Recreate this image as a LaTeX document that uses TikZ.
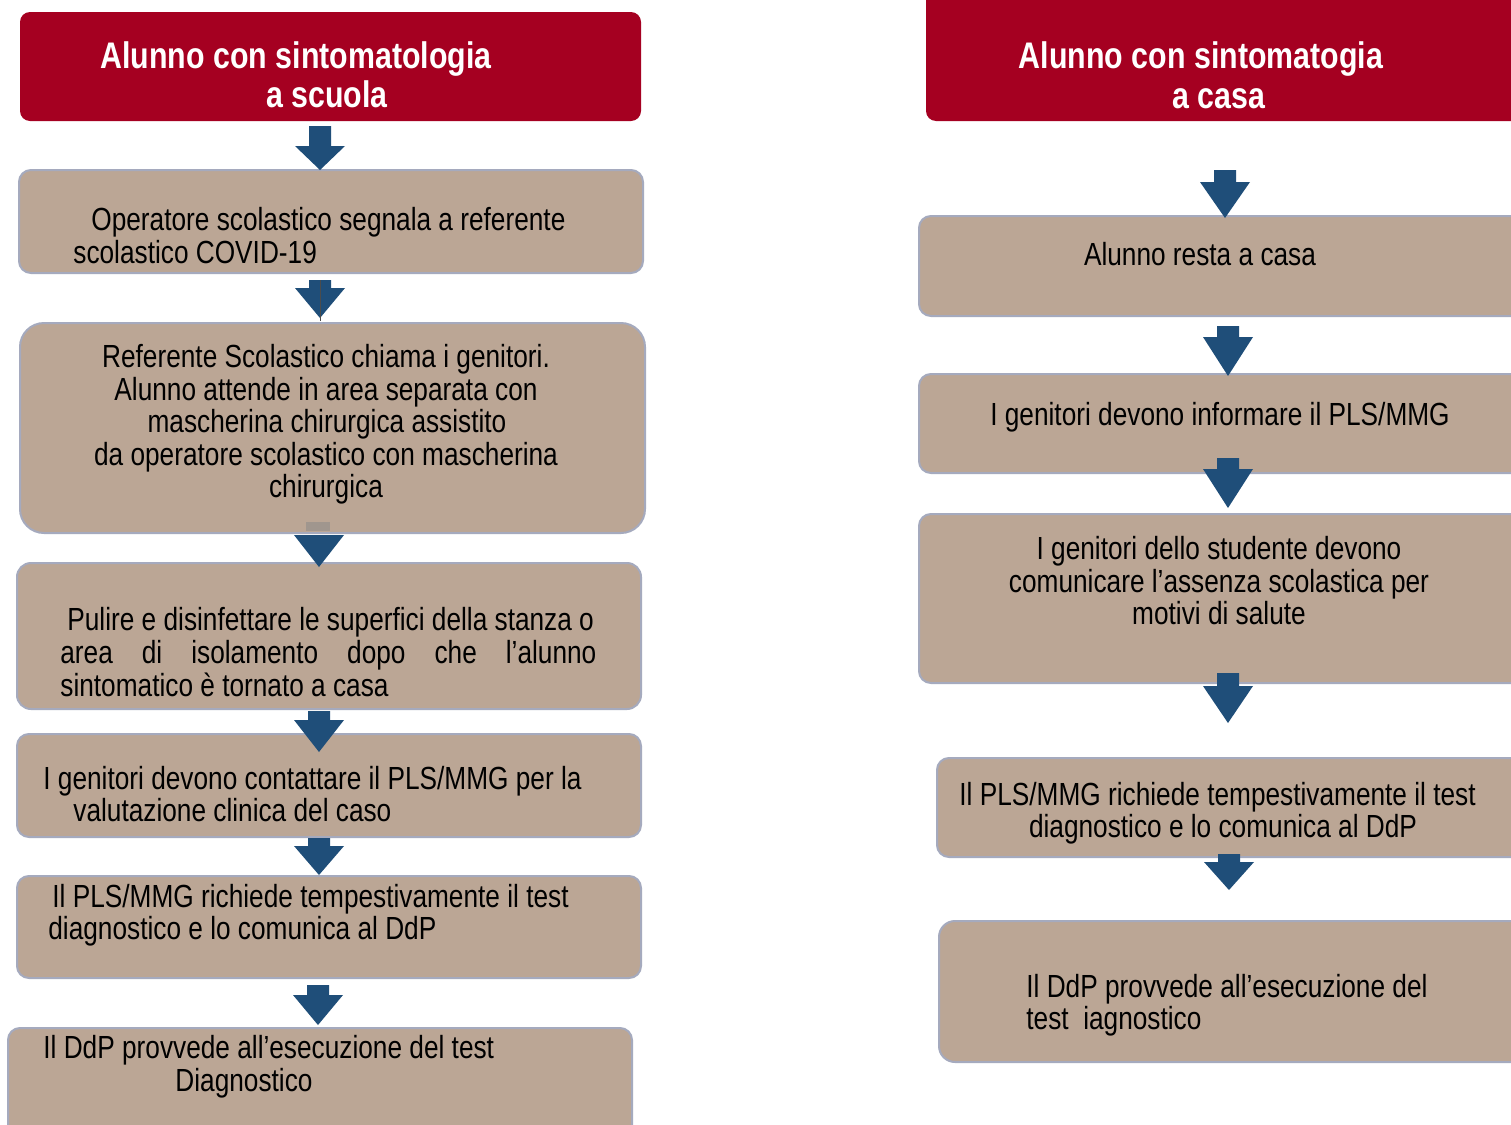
\documentclass[tikz,border=0pt]{standalone}
\usepackage{fontspec}
\setmainfont[FakeStretch=0.82]{Liberation Sans}
\usetikzlibrary{fit}
\definecolor{hdred}{RGB}{165,0,33}
\definecolor{tanfill}{RGB}{187,166,149}
\definecolor{boxline}{RGB}{165,170,190}
\definecolor{arrowblue}{RGB}{31,78,121}
\definecolor{stemgray}{RGB}{160,150,142}
\tikzset{
  hdbox/.style={fill=hdred, draw=none, rounded corners=5pt, inner sep=0pt},
  stepbox/.style={fill=tanfill, draw=boxline, line width=1pt, rounded corners=6pt, inner sep=0pt},
  bigbox/.style={stepbox, rounded corners=12pt},
  hdtext/.style={text=white, font=\bfseries\fontsize{18.5pt}{19.5pt}\selectfont, inner sep=0pt},
  bodytext/.style={text=black, font=\fontsize{16pt}{16.5pt}\selectfont, inner sep=0pt},
  blockarrow/.style={fill=arrowblue, draw=none}
}
\newcommand\blkarrow[4]{%
  \fill[blockarrow] ({#1-11},#2) -- ({#1+11},#2) -- ({#1+11},#3) -- ({#1+25},#3) --
    (#1,#4) -- ({#1-25},#3) -- ({#1-11},#3) -- cycle;}
\begin{document}
\begin{tikzpicture}[x=0.5pt,y=-0.5pt]
\useasboundingbox (0,0) rectangle (1511,1125);
\clip (0,0) rectangle (1511,1125);
\fill[white] (0,0) rectangle (1511,1125);

% ---------------- left column ----------------
\node[hdbox, fit={(20,12) (641,121)}] (hl) {};
\node[hdtext, anchor=base] (hlt1) at (296,68) {Alunno con sintomatologia};
\node[hdtext, anchor=base] (hlt2) at (327,107) {a scuola};

\node[stepbox, fit={(19,170) (643,273)}] (b1) {};
\node[bodytext, anchor=base west] (b1t1) at (91,230) {Operatore scolastico segnala a referente};
\node[bodytext, anchor=base west] (b1t2) at (73,263) {scolastico COVID-19};

\node[bigbox, fit={(20,323) (645,533)}] (b2) {};
\node[bodytext, anchor=base] (b2t1) at (326,367) {Referente Scolastico chiama i genitori.};
\node[bodytext, anchor=base] (b2t2) at (326,400) {Alunno attende in area separata con};
\node[bodytext, anchor=base] (b2t3) at (327,432) {mascherina chirurgica assistito};
\node[bodytext, anchor=base] (b2t4) at (326,465) {da operatore scolastico con mascherina};
\node[bodytext, anchor=base] (b2t5) at (326,497) {chirurgica};

\node[stepbox, rounded corners=7pt, fit={(17,563) (641,709)}] (b3) {};
\node[bodytext, anchor=base west] (b3t1) at (67,630) {Pulire e disinfettare le superfici della stanza o};
\node[bodytext, anchor=base west] (b3t2) at (60,663) {\makebox[268pt][s]{area di isolamento dopo che l’alunno}};
\node[bodytext, anchor=base west] (b3t3) at (60,696) {sintomatico è tornato a casa};

\node[stepbox, fit={(17,734) (641,837)}] (b4) {};
\node[bodytext, anchor=base west] (b4t1) at (43,789) {I genitori devono contattare il PLS/MMG per la};
\node[bodytext, anchor=base west] (b4t2) at (73,821) {valutazione clinica del caso};

\node[stepbox, fit={(17,876) (641,978)}] (b5) {};
\node[bodytext, anchor=base west] (b5t1) at (52,907) {Il PLS/MMG richiede tempestivamente il test};
\node[bodytext, anchor=base west] (b5t2) at (48,939) {diagnostico e lo comunica al DdP};

\node[stepbox, fit={(8,1028) (632,1145)}] (b6) {};
\node[bodytext, anchor=base west] (b6t1) at (43,1058) {Il DdP provvede all’esecuzione del test};
\node[bodytext, anchor=base west] (b6t2) at (175,1091) {Diagnostico};

% left arrows
\blkarrow{320}{126}{146}{170}
\blkarrow{320}{280}{288}{318}
\draw[black!70, line width=0.4pt] (320,280) -- (320,321);
\fill[stemgray] (306,522) rectangle (330,531);
\fill[blockarrow] (294,535) -- (344,535) -- (319,567) -- cycle;
\blkarrow{319}{711}{720}{752}
\blkarrow{319}{838}{846}{875}
\blkarrow{318}{985}{995}{1025}

% ---------------- right column ----------------
\node[hdbox, fit={(926,-20) (1540,121)}] (hr) {};
\node[hdtext, anchor=base] (hrt1) at (1201,68) {Alunno con sintomatogia};
\node[hdtext, anchor=base] (hrt2) at (1219,108) {a casa};

\node[stepbox, fit={(919,216) (1540,316)}] (r1) {};
\node[bodytext, anchor=base] (r1t) at (1200,265) {Alunno resta a casa};

\node[stepbox, fit={(919,374) (1540,473)}] (r2) {};
\node[bodytext, anchor=base] (r2t) at (1220,425) {I genitori devono informare il PLS/MMG};

\node[stepbox, fit={(919,514) (1540,683)}] (r3) {};
\node[bodytext, anchor=base] (r3t1) at (1219,559) {I genitori dello studente devono};
\node[bodytext, anchor=base] (r3t2) at (1219,592) {comunicare l’assenza scolastica per};
\node[bodytext, anchor=base] (r3t3) at (1219,624) {motivi di salute};

\node[stepbox, fit={(937,758) (1540,857)}] (r4) {};
\node[bodytext, anchor=base west] (r4t1) at (959,805) {Il PLS/MMG richiede tempestivamente il test};
\node[bodytext, anchor=base] (r4t2) at (1223,837) {diagnostico e lo comunica al DdP};

\node[stepbox, rounded corners=8pt, fit={(939,921) (1540,1062)}] (r5) {};
\node[bodytext, anchor=base west] (r5t1) at (1026,997) {Il DdP provvede all’esecuzione del};
\node[bodytext, anchor=base west] (r5t2) at (1026,1029) {test\ \ iagnostico};

% right arrows
\blkarrow{1225}{170}{182}{218}
\blkarrow{1228}{326}{337}{376}
\blkarrow{1228}{458}{469}{508}
\blkarrow{1228}{673}{686}{723}
\blkarrow{1229}{854}{862}{890}
\end{tikzpicture}
\end{document}
